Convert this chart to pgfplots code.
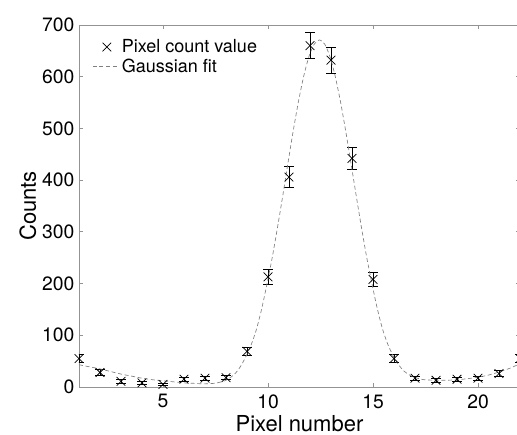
\documentclass[border=0pt]{standalone}
\usepackage{pgfplots}
\pgfplotsset{compat=1.18}
\usepackage{fontspec}
\setmainfont{TeX Gyre Heros}
\pgfplotsset{fitlegend/.style={legend image code/.code={\draw[##1] (-2pt,0pt) -- (17.5pt,0pt);}}}
\begin{document}
\begin{tikzpicture}
\begin{axis}[
  name=ax,
  scale only axis,
  width=330.75pt, height=271.5pt,
  xmin=1, xmax=22, ymin=0, ymax=700,
  xtick={5,10,15,20}, ytick={0,100,...,700},
  tick align=inside,
  major tick length=3pt,
  axis line style={gray!85, line width=0.6pt},
  tick style={gray!85, line width=0.6pt},
  /pgf/number format/assume math mode=true,
  ticklabel style={font=\fontsize{14.5}{16}\selectfont},
  xticklabel style={yshift=-2pt},
  xlabel={Pixel number}, ylabel={Counts},
  label style={font=\fontsize{16.5}{18}\selectfont},
  xlabel style={at={(axis description cs:0.5,-0.1)}, anchor=center},
  ylabel style={at={(axis description cs:-0.1157,0.5)}, anchor=center},
  legend style={at={(axis description cs:0.03,0.968)}, anchor=north west,
    draw=none, fill=none, font=\fontsize{13.5}{15}\selectfont,
    inner sep=0pt, row sep=-1pt, nodes={inner sep=2pt}},
  legend cell align=left,
]
\addplot[only marks, mark=x, mark size=4.6pt, black, line width=0.55pt,
  error bars/.cd, y dir=both, y explicit,
  error bar style={black, line width=0.7pt},
  error mark options={rotate=90, mark size=3.6pt, black, line width=0.7pt}]
  table[x=x, y=y, y error=e] {
x y e
1 55 7.4
2 28 5.3
3 11 3.3
4 8 2.8
5 5 2.2
6 15 3.9
7 17 4.1
8 18 4.2
9 69 8.3
10 213 14.6
11 406 20.1
12 660 25.7
13 632 25.1
14 442 21.0
15 208 14.4
16 55 7.4
17 17 4.1
18 13 3.6
19 15 3.9
20 17 4.1
21 26 5.1
22 55 7.4
};
\addlegendentry{Pixel count value}
\addplot[gray, line width=0.5pt, dash pattern=on 3pt off 2pt, smooth, tension=0.4, mark=none, fitlegend]
  coordinates {
(1,43) (1.5,39) (2,35) (2.5,30) (3,25) (3.5,21) (4,17) (4.5,14) (5,12) (5.5,10)
(6,8) (6.5,7) (6.95,6) (7.45,7.1) (7.70,9.1) (7.95,12.1) (8.20,17.9) (8.45,26.6)
(8.70,40.3) (8.95,59) (9.20,81.8) (9.45,111.5) (9.70,151.3) (9.95,199) (10.20,250)
(10.45,308) (10.70,369) (10.95,433) (11.20,495) (11.45,552) (11.70,601) (11.95,639)
(12.20,663) (12.45,671) (12.70,663) (12.95,639) (13.20,601) (13.45,552) (13.70,495)
(13.95,433) (14.20,370) (14.45,308.5) (14.70,250.7) (14.95,200) (15.20,152.2)
(15.45,112.5) (15.70,83) (15.95,61) (16.20,44) (16.45,31.7) (16.70,24) (16.95,19)
(17.20,16) (17.45,14) (17.95,13) (18.5,13) (19,14) (19.5,16) (20,19) (20.5,23)
(21,29) (21.5,36) (22,45)
};
\addlegendentry{Gaussian fit}
\end{axis}
\pgfresetboundingbox
\path[use as bounding box] ([shift={(-59.25pt,-36pt)}]ax.south west) rectangle ([shift={(-2.25pt,18.75pt)}]ax.north east);
\end{tikzpicture}
\end{document}
